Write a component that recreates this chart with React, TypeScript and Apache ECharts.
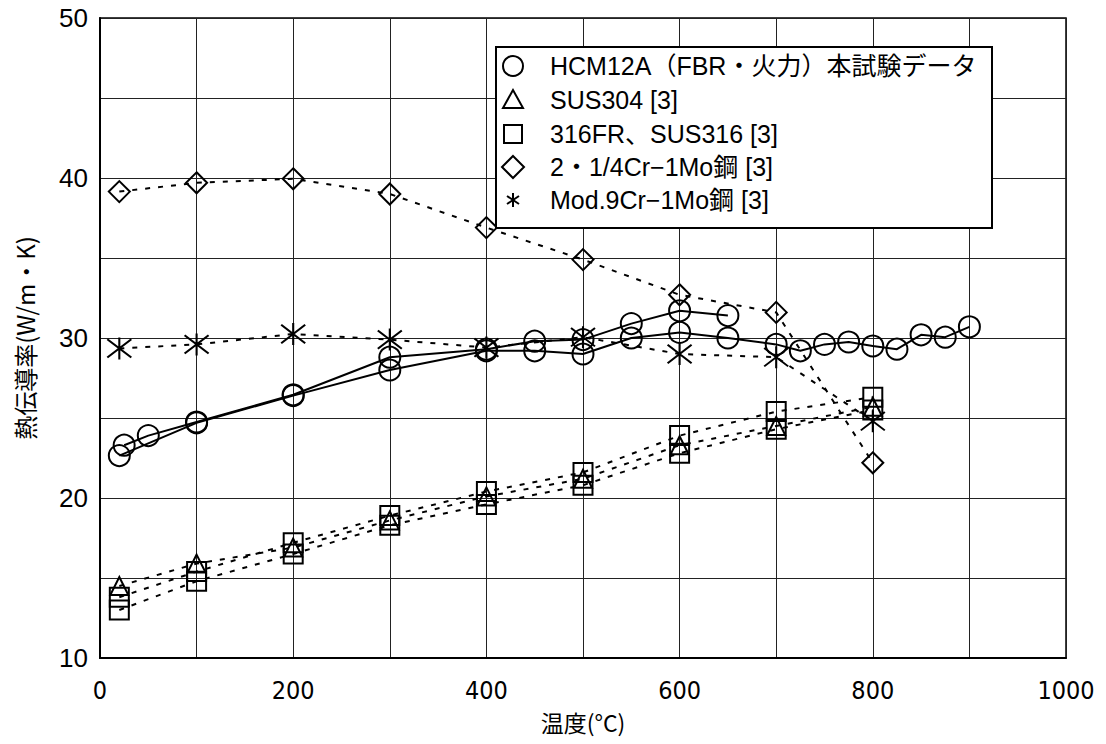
import React, { useEffect, useRef } from "react";
import * as echarts from "echarts";

// HCM12A measured data (two runs)
const hcmTempA = [20, 100, 200, 300, 400, 450, 500, 550, 600, 650, 700, 725, 750, 775, 800, 825, 850, 875, 900];
const hcmCondA = [22.65, 24.7, 26.4, 28.0, 29.2, 29.2, 29.0, 30.0, 30.35, 30.0, 29.6, 29.2, 29.6, 29.75, 29.5, 29.3, 30.2, 30.05, 30.7];
const hcmTempB = [25, 50, 100, 200, 300, 400, 450, 500, 550, 600, 650];
const hcmCondB = [23.3, 23.9, 24.75, 26.45, 28.8, 29.3, 29.8, 29.9, 30.9, 31.7, 31.4];

// Reference materials [3]
const refTemp = [20, 100, 200, 300, 400, 500, 600, 700, 800];
const sus304Cond = [14.5, 15.9, 16.9, 18.6, 20.1, 21.2, 23.3, 24.5, 25.7];
const fr316Cond = [13.8, 15.4, 17.2, 18.9, 20.4, 21.6, 23.9, 25.4, 26.3];
const sus316Cond = [13.0, 14.8, 16.5, 18.3, 19.6, 20.8, 22.8, 24.3, 25.5];
const crMoCond = [39.15, 39.7, 39.95, 39.0, 36.9, 34.9, 32.7, 31.6, 22.2];
const mod9CrCond = [29.35, 29.6, 30.25, 29.9, 29.4, 30.05, 29.0, 28.8, 24.8];

// Axis ticks
const xMin = 0, xMax = 1000, xStep = 100, xLabelStep = 200;
const yMin = 10, yMax = 50, yStep = 5, yLabelStep = 10;

const legendLabels = [
  "HCM12A（FBR・火力）本試験データ",
  "SUS304 [3]",
  "316FR、SUS316 [3]",
  "2・1/4Cr−1Mo鋼 [3]",
  "Mod.9Cr−1Mo鋼 [3]",
];

const zip = (xs: number[], ys: number[]) => xs.map((x, i) => [x, ys[i]]);

const ASTERISK = "path://M0,0 L24,20 M24,0 L0,20 M12,-2 L12,22";
const FONT = "'Liberation Sans', Arial, sans-serif";
const LEGEND_FONT = "'Liberation Sans', 'Noto Sans CJK JP', sans-serif";
const CJK = "'Noto Sans CJK JP', 'Liberation Sans', sans-serif";

function makeSeries(name: string, data: number[][], symbol: string, size: number | number[], dashed: boolean) {
  return {
    type: "line",
    name,
    data,
    symbol,
    symbolSize: size,
    symbolKeepAspect: true,
    showAllSymbol: true,
    itemStyle: { color: "none", borderColor: "#000", borderWidth: 2 },
    lineStyle: { color: "#000", width: 2, type: dashed ? [5, 8] : "solid" },
    emphasis: { disabled: true },
    silent: true,
  };
}

export default function App() {
  const ref = useRef<HTMLDivElement>(null);

  useEffect(() => {
    if (!ref.current) return;
    const chart = echarts.init(ref.current, undefined, { renderer: "svg" });

    // Legend box drawn with graphic elements
    const lx = 513;
    const rowY = [66, 100, 134, 167, 200];
    const stroke = { fill: "none", stroke: "#000", lineWidth: 2 };
    const symbols: any[] = [
      { type: "circle", shape: { cx: lx, cy: rowY[0], r: 10 }, style: stroke },
      { type: "polygon", shape: { points: [[lx, rowY[1] - 10], [lx - 10, rowY[1] + 8], [lx + 10, rowY[1] + 8]] }, style: stroke },
      { type: "rect", shape: { x: lx - 9, y: rowY[2] - 9, width: 18, height: 18 }, style: stroke },
      { type: "polygon", shape: { points: [[lx, rowY[3] - 11], [lx + 11, rowY[3]], [lx, rowY[3] + 11], [lx - 11, rowY[3]]] }, style: stroke },
      { type: "line", shape: { x1: lx, y1: rowY[4] - 7, x2: lx, y2: rowY[4] + 7 }, style: stroke },
      { type: "line", shape: { x1: lx - 6, y1: rowY[4] - 4, x2: lx + 6, y2: rowY[4] + 4 }, style: stroke },
      { type: "line", shape: { x1: lx - 6, y1: rowY[4] + 4, x2: lx + 6, y2: rowY[4] - 4 }, style: stroke },
    ];

    const graphic: any[] = [
      {
        type: "rect",
        shape: { x: 496, y: 47, width: 496, height: 181 },
        style: { fill: "#fff", stroke: "#000", lineWidth: 2 },
        z: 10,
      },
      ...symbols.map((s) => ({ ...s, z: 11 })),
      ...legendLabels.map((t, i) => ({
        type: "text",
        x: 550,
        y: rowY[i],
        z: 11,
        style: { text: t, font: `25px ${LEGEND_FONT}`, fill: "#000", verticalAlign: "middle" },
      })),
    ];

    chart.setOption({
      animation: false,
      backgroundColor: "#fff",
      grid: {
        left: 100,
        right: 40,
        top: 18,
        bottom: 86,
        show: true,
        borderColor: "#000",
        borderWidth: 1.5,
      },
      xAxis: {
        type: "value",
        min: xMin,
        max: xMax,
        interval: xStep,
        name: "温度(°C)",
        nameLocation: "middle",
        nameGap: 52,
        nameTextStyle: { fontFamily: CJK, fontSize: 23, color: "#000" },
        axisLine: { show: true, lineStyle: { color: "#000", width: 2 } },
        axisTick: { show: false },
        splitLine: { show: true, lineStyle: { color: "#222", width: 1 } },
        axisLabel: {
          margin: 20,
          color: "#000",
          fontSize: 25,
          fontFamily: "'Liberation Sans Narrow', 'DejaVu Sans Condensed', 'Liberation Sans', sans-serif",
          formatter: (v: number) => (v % xLabelStep === 0 ? String(v) : ""),
        },
      },
      yAxis: {
        type: "value",
        min: yMin,
        max: yMax,
        interval: yStep,
        name: "熱伝導率(W/m・K)",
        nameLocation: "middle",
        nameGap: 64,
        nameRotate: 90,
        nameTextStyle: { fontFamily: CJK, fontSize: 24, color: "#000" },
        axisLine: { show: true, lineStyle: { color: "#000", width: 2 } },
        axisTick: { show: false },
        splitLine: { show: true, lineStyle: { color: "#222", width: 1 } },
        axisLabel: {
          margin: 12,
          color: "#000",
          fontSize: 26,
          fontFamily: FONT,
          formatter: (v: number) => (v % yLabelStep === 0 ? String(v) : ""),
        },
      },
      series: [
        makeSeries("HCM12A-1", zip(hcmTempA, hcmCondA), "circle", 21, false),
        makeSeries("HCM12A-2", zip(hcmTempB, hcmCondB), "circle", 21, false),
        makeSeries("SUS304", zip(refTemp, sus304Cond), "triangle", 18, true),
        makeSeries("316FR", zip(refTemp, fr316Cond), "rect", 19, true),
        makeSeries("SUS316", zip(refTemp, sus316Cond), "rect", 19, true),
        makeSeries("2.25Cr-1Mo", zip(refTemp, crMoCond), "diamond", 21, true),
        makeSeries("Mod.9Cr-1Mo", zip(refTemp, mod9CrCond), ASTERISK, [24, 22], true),
      ],
      graphic,
    });

    return () => chart.dispose();
  }, []);

  return (
    <div
      ref={ref}
      style={{ position: "fixed", left: 0, top: 0, width: 1106, height: 744, background: "#fff" }}
    />
  );
}
